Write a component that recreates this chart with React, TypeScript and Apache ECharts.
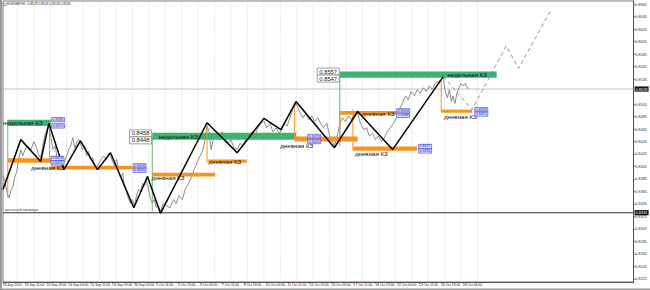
import React, { useEffect, useRef } from "react";
import * as echarts from "echarts";

const FONT = "Liberation Sans, Arial, sans-serif";
const symbolTitle = "EURGBP,H1  0.8529 0.8531 0.8528 0.8530";

const timeTickBars = [0, 32, 64, 96, 128, 160, 192, 224, 256, 288, 320, 352, 384, 416, 448, 480, 512, 544, 576, 608, 640, 672];
const timeTickLabels = ["18 Sep 2013", "19 Sep 11:00", "20 Sep 19:00", "24 Sep 03:00", "25 Sep 11:00", "26 Sep 19:00", "30 Sep 03:00", "1 Oct 11:00", "2 Oct 19:00", "4 Oct 03:00", "7 Oct 11:00", "8 Oct 19:00", "10 Oct 03:00", "11 Oct 11:00", "14 Oct 19:00", "16 Oct 03:00", "17 Oct 11:00", "18 Oct 19:00", "22 Oct 03:00", "23 Oct 11:00", "24 Oct 19:00", "28 Oct 04:00"];
// 0.8525 sits under the current-price marker, so it is not listed
const priceTicks = [0.8225, 0.8245, 0.8265, 0.8285, 0.8305, 0.8325, 0.8345, 0.8365, 0.8385, 0.8405, 0.8425, 0.8445, 0.8465, 0.8485, 0.8505, 0.8545, 0.8565, 0.8585, 0.8605, 0.8625, 0.8645, 0.8665];
const dayGridBars = [21, 45, 69, 93, 117, 141, 165, 189, 213, 237, 261, 285, 309, 333, 357, 381, 405, 429, 453, 477, 501, 525, 549, 573, 597, 621, 645, 669, 693];

const closeBars = [
  0, 3, 6, 9, 12, 15, 17, 20, 23, 26, 29,
  32, 36, 41, 45, 49, 52, 55, 58, 61, 64, 67,
  70, 73, 76, 79, 81, 84, 87, 90,
  93, 96, 99, 102, 105, 108, 111, 113,
  116, 119, 122, 125, 128, 131, 134, 137, 140,
  143, 147, 151, 154, 157,
  160, 163, 166, 169, 172, 175, 177, 180, 183, 186, 189,
  192, 195, 198, 201, 204, 207, 209,
  212, 215, 218, 221, 224, 227, 230,
  234, 239, 244, 249, 253, 257, 262, 266, 271, 275, 279, 284, 288, 292, 295, 298,
  301, 304, 307, 311, 316, 320, 324, 329, 333, 337, 342,
  346, 351, 355, 359, 364, 368, 372, 377, 381,
  385, 390, 394, 399, 403, 406,
  410, 415, 419, 423, 428,
  433, 438, 442, 447, 451, 455, 460, 464, 468, 473, 477, 481, 484,
  487, 492, 496, 500, 505, 509, 513, 518,
  522, 527, 531, 535, 540, 544, 548, 553, 557, 561, 566, 570,
  575, 579, 583, 588, 592, 596, 601, 605, 609, 614, 618, 623, 627, 631, 636, 640, 643,
  646, 649, 652, 655, 657, 660, 663, 666, 669, 672, 675, 678, 681,
];
const closePrices = [
  0.8390, 0.8381, 0.8362, 0.8355, 0.8368, 0.8374, 0.8387, 0.8397, 0.8416, 0.8432, 0.8422,
  0.8432, 0.8438, 0.8432, 0.8445, 0.8435, 0.8424, 0.8419, 0.8438, 0.8454, 0.8464, 0.8470,
  0.8451, 0.8432, 0.8438, 0.8419, 0.8413, 0.8416, 0.8406, 0.8413,
  0.8422, 0.8432, 0.8438, 0.8451, 0.8435, 0.8445, 0.8448, 0.8442,
  0.8432, 0.8438, 0.8422, 0.8429, 0.8416, 0.8419, 0.8406, 0.8403, 0.8410,
  0.8416, 0.8422, 0.8416, 0.8426, 0.8422,
  0.8413, 0.8406, 0.8416, 0.8397, 0.8387, 0.8394, 0.8374, 0.8365, 0.8355, 0.8346, 0.8352,
  0.8342, 0.8358, 0.8368, 0.8365, 0.8378, 0.8374, 0.8384,
  0.8371, 0.8355, 0.8346, 0.8352, 0.8339, 0.8342, 0.8333,
  0.8346, 0.8342, 0.8339, 0.8352, 0.8346, 0.8358, 0.8352, 0.8368, 0.8378, 0.8387, 0.8400, 0.8413, 0.8422, 0.8432, 0.8448, 0.8470,
  0.8461, 0.8432, 0.8448, 0.8458, 0.8448, 0.8461, 0.8451, 0.8442, 0.8448, 0.8435, 0.8432,
  0.8442, 0.8438, 0.8451, 0.8448, 0.8461, 0.8454, 0.8467, 0.8474, 0.8478,
  0.8467, 0.8474, 0.8461, 0.8467, 0.8458, 0.8462,
  0.8474, 0.8470, 0.8483, 0.8496, 0.8506,
  0.8493, 0.8483, 0.8490, 0.8480, 0.8486, 0.8477, 0.8483, 0.8474, 0.8467, 0.8474, 0.8454, 0.8445, 0.8438,
  0.8448, 0.8474, 0.8483, 0.8477, 0.8486, 0.8480, 0.8490, 0.8490,
  0.8474, 0.8464, 0.8467, 0.8454, 0.8458, 0.8448, 0.8454, 0.8445, 0.8451, 0.8461, 0.8467, 0.8474,
  0.8483, 0.8496, 0.8506, 0.8518, 0.8512, 0.8525, 0.8518, 0.8528, 0.8522, 0.8531, 0.8525, 0.8534, 0.8528, 0.8538, 0.8541, 0.8544, 0.8547,
  0.8525, 0.8515, 0.8528, 0.8509, 0.8518, 0.8506, 0.8522, 0.8531, 0.8538, 0.8534, 0.8538, 0.8531, 0.8530,
];

const zigBars = [0, 26, 55, 67, 89, 113, 138, 157, 191, 211, 230, 298, 342, 381, 406, 428, 484, 518, 569, 643];
const zigPrices = [0.8368, 0.8448, 0.8413, 0.8474, 0.8400, 0.8446, 0.8400, 0.8427, 0.8339, 0.8389, 0.8330, 0.8475, 0.8427, 0.8482, 0.8464, 0.8509, 0.8435, 0.8493, 0.8432, 0.8549];

const forecastBars = [643, 685, 735, 753, 799];
const forecastPrices = [0.8549, 0.8496, 0.8598, 0.8562, 0.8653];

const weeklyStart = [7, 218, 492];
const weeklyEnd = [70, 428, 721];
const weeklyHigh = [0.8480, 0.8459, 0.8557];
const weeklyLow = [0.8470, 0.8448, 0.8547];
const weeklyLabelBars = [29, 256, 678];
const weeklyLabelPrices = [0.8475, 0.8453, 0.8552];
const weeklyLabelText = ["недельная КЗ", "недельная КЗ", "недельная КЗ"];

const dailyStart = [7, 70, 218, 300, 426, 492, 511, 640];
const dailyEnd = [70, 189, 310, 356, 518, 575, 605, 685];
const dailyHigh = [0.8418, 0.8406, 0.8395, 0.8416, 0.8453, 0.8494, 0.8437, 0.8496];
const dailyLow = [0.8411, 0.8400, 0.8389, 0.8411, 0.8445, 0.8488, 0.8430, 0.8491];
const dailyLabelBars = [65, 241, 324, 429, 548, 538, 668];
const dailyLabelPrices = [0.8403, 0.8387, 0.8413, 0.8438, 0.8490, 0.8426, 0.8485];
const dailyLabelText = ["дневная КЗ", "дневная КЗ", "дневная КЗ", "дневная КЗ", "дневная КЗ", "дневная КЗ", "дневная КЗ"];

const blueTagBars = [71, 70, 190, 445, 575, 607, 689];
const blueTagHigh = [0.8480, 0.8418, 0.8406, 0.8453, 0.8494, 0.8437, 0.8496];
const blueTagLow = [0.8470, 0.8411, 0.8400, 0.8445, 0.8488, 0.8430, 0.8491];

const grayTagBars = [217, 491];
const grayTagHigh = [0.8458, 0.8557];
const grayTagLow = [0.8448, 0.8547];

const connectorBars = [7, 218, 492, 7, 68, 298, 426, 492, 511, 640];
const connectorFrom = [0.8480, 0.8453, 0.8552, 0.8416, 0.8474, 0.8475, 0.8507, 0.8494, 0.8496, 0.8544];
const connectorTo = [0.8416, 0.8333, 0.8437, 0.8355, 0.8413, 0.8411, 0.8448, 0.8445, 0.8432, 0.8493];
const connectorKind = ["w", "w", "w", "d", "d", "d", "d", "d", "d", "d"];

const bidPrice = 0.8529;
const levelPrice = 0.8331;
const levelName = "месячный минимум";

const GREEN = "#3cb371";
const ORANGE = "#f7941d";

export default function App() {
  const ref = useRef<HTMLDivElement>(null);
  useEffect(() => {
    document.body.style.margin = "0";
    if (!ref.current) return;
    const chart = echarts.init(ref.current, null, { renderer: "svg" });

    const rectSeries = (starts: number[], ends: number[], highs: number[], lows: number[], color: string, z: number) => ({
      type: "custom",
      z,
      silent: true,
      encode: { x: [0, 2], y: [1, 3] },
      data: starts.map((s, i) => [s, highs[i], ends[i], lows[i]]),
      renderItem: (_p: any, api: any) => {
        const a = api.coord([api.value(0), api.value(1)]);
        const b = api.coord([api.value(2), api.value(3)]);
        return { type: "rect", shape: { x: a[0], y: a[1], width: b[0] - a[0], height: b[1] - a[1] }, style: { fill: color } };
      },
    });

    const textSeries = (bars: number[], prices: number[], texts: string[], z: number) => ({
      type: "custom",
      z,
      silent: true,
      encode: { x: 0, y: 1 },
      data: bars.map((b, i) => [b, prices[i]]),
      renderItem: (p: any, api: any) => {
        const c = api.coord([api.value(0), api.value(1)]);
        return {
          type: "text",
          x: c[0],
          y: c[1],
          style: { text: texts[p.dataIndex], fill: "#111", fontSize: 6.2, fontFamily: FONT, align: "center", verticalAlign: "middle" },
        };
      },
    });

    const tagSeries = (bars: number[], highs: number[], lows: number[], kind: "blue" | "gray", z: number) => ({
      type: "custom",
      z,
      silent: true,
      encode: { x: 0, y: [1, 2] },
      data: bars.map((b, i) => [b, highs[i], lows[i]]),
      renderItem: (_p: any, api: any) => {
        const top = api.coord([api.value(0), api.value(1)]);
        const bot = api.coord([api.value(0), api.value(2)]);
        const w = kind === "blue" ? 13 : 22;
        const h = kind === "blue" ? 4.4 : 7;
        const fs = kind === "blue" ? 3.6 : 5.8;
        const x = kind === "blue" ? top[0] : top[0] - w;
        const yT = top[1];
        const yB = Math.max(bot[1], yT + h);
        const box = (yc: number, v: number) => ({
          type: "group",
          children: [
            {
              type: "rect",
              shape: { x, y: yc - h / 2, width: w, height: h },
              style: kind === "blue" ? { fill: "#dedcff", stroke: "#3a3ad0", lineWidth: 0.6 } : { fill: "#ffffff", stroke: "#7a7a7a", lineWidth: 0.7 },
            },
            {
              type: "text",
              x: x + w / 2,
              y: yc,
              style: { text: v.toFixed(4), fill: kind === "blue" ? "#2424b0" : "#222", fontSize: fs, fontFamily: FONT, align: "center", verticalAlign: "middle" },
            },
          ],
        });
        return { type: "group", children: [box(yT, api.value(1)), box(yB, api.value(2))] };
      },
    });

    const option: any = {
      animation: false,
      backgroundColor: "#ffffff",
      textStyle: { fontFamily: FONT },
      grid: { left: 2, right: 15, top: 1, bottom: 8, show: true, borderColor: "#7a7a7a", borderWidth: 1 },
      xAxis: {
        type: "value",
        min: 0,
        max: 921,
        axisLine: { show: true, onZero: false, lineStyle: { color: "#555", width: 1 } },
        axisTick: { show: true, customValues: timeTickBars, length: 2, lineStyle: { color: "#555", width: 0.6 } },
        axisLabel: {
          customValues: timeTickBars,
          formatter: (v: number) => timeTickLabels[timeTickBars.indexOf(Math.round(v))] ?? "",
          fontSize: 3.3,
          color: "#222",
          align: "left",
          margin: 1,
          fontFamily: FONT,
        },
        splitLine: { show: false },
      },
      yAxis: {
        type: "value",
        position: "right",
        min: 0.822,
        max: 0.867,
        axisLine: { show: true, onZero: false, lineStyle: { color: "#555", width: 1 } },
        axisTick: { show: true, customValues: priceTicks, length: 2, lineStyle: { color: "#555", width: 0.6 } },
        axisLabel: {
          customValues: priceTicks,
          formatter: (v: number) => v.toFixed(4),
          fontSize: 3.9,
          color: "#333",
          margin: 1.5,
          fontFamily: FONT,
        },
        splitLine: { show: false },
      },
      graphic: [
        { type: "rect", left: 0, top: 0, shape: { width: 2, height: 290 }, style: { fill: "#9a9a9a" }, z: 100 },
        { type: "rect", left: 0, top: 288.5, shape: { width: 650, height: 1.5 }, style: { fill: "#9a9a9a" }, z: 100 },
        { type: "rect", left: 3.5, top: 3, shape: { width: 2.4, height: 2.4 }, style: { fill: "#fff", stroke: "#555", lineWidth: 0.5 }, z: 100 },
        { type: "text", left: 7, top: 2.4, style: { text: symbolTitle, fontSize: 3.3, fill: "#222", fontFamily: FONT }, z: 100 },
      ],
      series: [
        {
          type: "custom",
          z: 1,
          silent: true,
          encode: { x: 0 },
          data: dayGridBars.map((b) => [b]),
          renderItem: (p: any, api: any) => {
            const x = api.coord([api.value(0), 0.85])[0];
            const cs = p.coordSys;
            return { type: "line", shape: { x1: x, y1: cs.y, x2: x, y2: cs.y + cs.height }, style: { stroke: "#b8b8b8", lineWidth: 0.6, lineDash: [1, 1.5] } };
          },
        },
        {
          type: "custom",
          z: 2,
          silent: true,
          encode: { y: 1 },
          data: [[0, bidPrice, 0], [0, levelPrice, 1]],
          renderItem: (p: any, api: any) => {
            const y = api.coord([0, api.value(1)])[1];
            const cs = p.coordSys;
            const dark = api.value(2) === 1;
            return {
              type: "line",
              shape: { x1: cs.x, y1: y, x2: cs.x + cs.width, y2: y },
              style: { stroke: dark ? "#333" : "#b4b4b4", lineWidth: dark ? 1.1 : 0.8 },
            };
          },
        },
        {
          type: "line",
          z: 3,
          silent: true,
          symbol: "none",
          data: closeBars.map((b, i) => [b, closePrices[i]]),
          lineStyle: { color: "#808080", width: 0.9 },
        },
        rectSeries(weeklyStart, weeklyEnd, weeklyHigh, weeklyLow, GREEN, 4),
        rectSeries(dailyStart, dailyEnd, dailyHigh, dailyLow, ORANGE, 4),
        {
          type: "custom",
          z: 5,
          silent: true,
          encode: { x: 0, y: [1, 2] },
          data: connectorBars.map((b, i) => [b, connectorFrom[i], connectorTo[i]]),
          renderItem: (p: any, api: any) => {
            const a = api.coord([api.value(0), api.value(1)]);
            const b = api.coord([api.value(0), api.value(2)]);
            const kind = connectorKind[p.dataIndex];
            return {
              type: "line",
              shape: { x1: a[0], y1: a[1], x2: b[0], y2: b[1] },
              style: { stroke: kind === "w" ? "#5cbf62" : ORANGE, lineWidth: 1 },
            };
          },
        },
        {
          type: "line",
          z: 6,
          silent: true,
          symbol: "none",
          data: zigBars.map((b, i) => [b, zigPrices[i]]),
          lineStyle: { color: "#000", width: 1.5 },
        },
        {
          type: "line",
          z: 6,
          silent: true,
          symbol: "none",
          clip: false,
          data: forecastBars.map((b, i) => [b, forecastPrices[i]]),
          lineStyle: { color: "#7a7a7a", width: 0.8, type: [4, 3] },
        },
        textSeries(weeklyLabelBars, weeklyLabelPrices, weeklyLabelText, 7),
        textSeries(dailyLabelBars, dailyLabelPrices, dailyLabelText, 7),
        {
          type: "custom",
          z: 7,
          silent: true,
          encode: { y: 1 },
          data: [[0, levelPrice]],
          renderItem: (p: any, api: any) => {
            const y = api.coord([0, api.value(1)])[1];
            return {
              type: "text",
              x: p.coordSys.x + 2,
              y: y - 0.6,
              style: { text: levelName, fill: "#444", fontSize: 3.6, fontFamily: FONT, align: "left", verticalAlign: "bottom" },
            };
          },
        },
        tagSeries(blueTagBars, blueTagHigh, blueTagLow, "blue", 8),
        tagSeries(grayTagBars, grayTagHigh, grayTagLow, "gray", 8),
        {
          type: "custom",
          z: 9,
          silent: true,
          clip: false,
          encode: { y: 1 },
          data: [[0, bidPrice], [0, levelPrice]],
          renderItem: (p: any, api: any) => {
            const v = api.value(1);
            const y = api.coord([0, v])[1];
            const x = p.coordSys.x + p.coordSys.width + 1;
            return {
              type: "group",
              children: [
                { type: "rect", shape: { x, y: y - 2.6, width: 14, height: 5.2 }, style: { fill: "#111" } },
                {
                  type: "text",
                  x: x + 1,
                  y,
                  style: { text: v.toFixed(4), fill: "#fff", fontSize: 3.9, fontFamily: FONT, align: "left", verticalAlign: "middle" },
                },
              ],
            };
          },
        },
      ],
    };
    chart.setOption(option);
    return () => chart.dispose();
  }, []);
  return <div ref={ref} style={{ width: 650, height: 290 }} />;
}
